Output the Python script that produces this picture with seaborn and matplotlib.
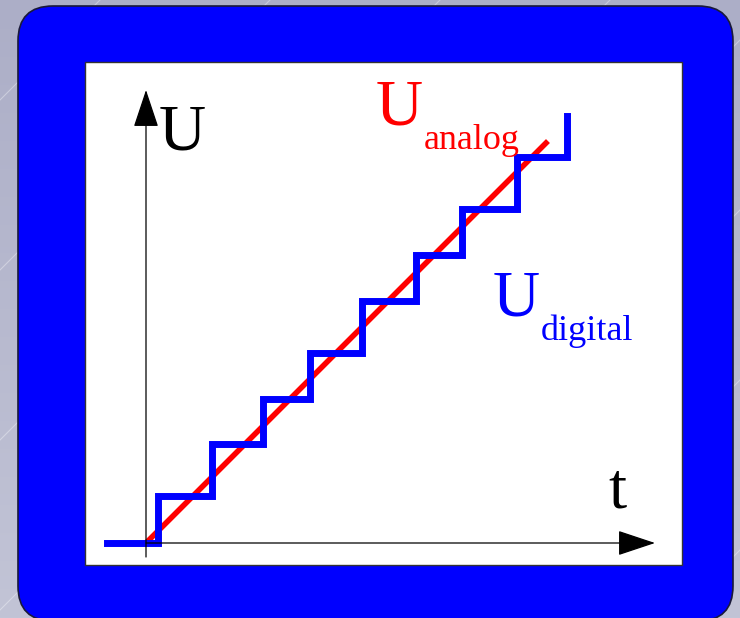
import numpy as np
import pandas as pd
import seaborn as sns
import matplotlib.pyplot as plt
from matplotlib.patches import FancyBboxPatch, Rectangle

# sampled (digital) signal: sample instants and held levels
t_digital = [-0.75, 0.23, 1.27, 2.25, 3.15, 4.15, 5.19, 6.08, 7.13, 8.10]
u_digital = [0.0, 0.90, 1.90, 2.77, 3.65, 4.65, 5.54, 6.42, 7.42, 8.21]

# analog ramp
t_analog = [0.0, 7.73]
u_analog = [0.0, 7.73]

digital = pd.DataFrame({"t": t_digital, "U": u_digital})
analog = pd.DataFrame({"t": t_analog, "U": u_analog})

W, H = 740, 618
fig = plt.figure(figsize=(W / 100, H / 100), dpi=100)

# background, frame and white panel (pixel coordinates)
bg = fig.add_axes([0, 0, 1, 1])
grad = np.linspace(0, 1, 256)[:, None]
top = np.array([172, 174, 199]) / 255
bottom = np.array([194, 196, 214]) / 255
img = top + (bottom - top) * grad[..., None]
bg.imshow(np.repeat(img, 2, axis=1), extent=[0, W, H, 0], aspect="auto", zorder=0)
for off in range(-600, 1400, 170):
    bg.plot([off, off + 700], [700, 0], color="white", alpha=0.35, lw=0.8, zorder=0.5)
bg.add_patch(FancyBboxPatch((18, 6), 715, 615, boxstyle="round,pad=0,rounding_size=35",
                            fc="#0000ff", ec="#1a1a3a", lw=1.2, zorder=1))
bg.add_patch(Rectangle((85, 62), 597, 503, fc="white", ec="#333333", lw=1, zorder=1.5))
bg.set_xlim(0, W)
bg.set_ylim(H, 0)
bg.axis("off")

# chart area over the white panel
px = 52.0
ax = fig.add_axes([85 / W, (H - 565) / H, 597 / W, 503 / H])
ax.set_xlim((85 - 146) / px, (682 - 146) / px)
ax.set_ylim((543 - 565) / px, (543 - 62) / px)
ax.axis("off")
ax.patch.set_alpha(0)

arrow = dict(arrowstyle="-|>,head_length=2.4,head_width=0.8", mutation_scale=10,
             color="black", lw=0.9, shrinkA=0, shrinkB=0)
ax.annotate("", xy=(0, (543 - 90) / px), xytext=(0, (543 - 557) / px), arrowprops=arrow)
ax.annotate("", xy=((655 - 146) / px, 0), xytext=(0, 0), arrowprops=arrow)

sns.lineplot(data=analog, x="t", y="U", ax=ax, color="#ff0000", lw=4,
             solid_capstyle="butt")
sns.lineplot(data=digital, x="t", y="U", ax=ax, color="#0000ff", lw=5,
             drawstyle="steps-post", solid_capstyle="projecting", solid_joinstyle="miter")
ax.set_xlabel("")
ax.set_ylabel("")

serif = "Liberation Serif"


def label(x, y, s, size, color):
    fig.text(x / W, 1 - y / H, s, fontsize=size, color=color, family=serif,
             ha="left", va="baseline")


label(159, 149, "U", 47, "black")
label(608, 508, "t", 47, "black")
label(376, 124, "U", 47, "#ff0000")
label(424, 149, "analog", 26, "#ff0000")
label(493, 315, "U", 47, "#0000ff")
label(541, 340, "digital", 26, "#0000ff")

fig.savefig("out.png", dpi=100)
